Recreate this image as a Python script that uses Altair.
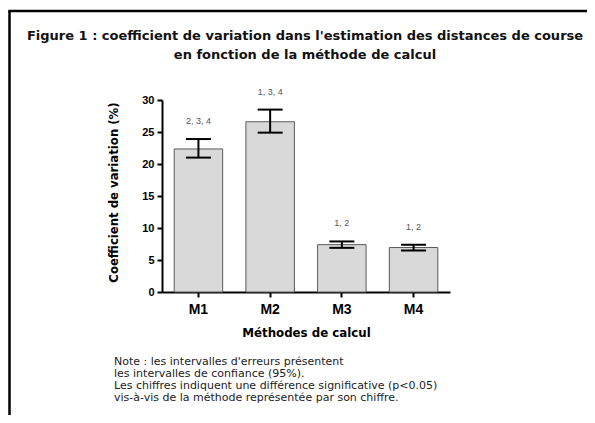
import altair as alt
import pandas as pd

methods = ["M1", "M2", "M3", "M4"]
cv_mean = [22.35, 26.6, 7.4, 6.95]
ci_low = [21.0, 24.9, 6.9, 6.5]
ci_high = [23.9, 28.5, 7.9, 7.4]
sig_labels = ["2, 3, 4", "1, 3, 4", "1, 2", "1, 2"]
y_ticks = [0, 5, 10, 15, 20, 25, 30]

title_lines = [
    "Figure 1 : coefficient de variation dans l'estimation des distances de course",
    "en fonction de la méthode de calcul",
]
note_lines = [
    "Note : les intervalles d'erreurs présentent",
    "les intervalles de confiance (95%).",
    "Les chiffres indiquent une différence significative (p<0.05)",
    "vis-à-vis de la méthode représentée par son chiffre.",
]
x_title = "Méthodes de calcul"
y_title = "Coefficient de variation (%)"

FONT = "Liberation Sans"
WIDE = "DejaVu Sans"

df = pd.DataFrame({
    "method": methods,
    "cv": cv_mean,
    "lo": ci_low,
    "hi": ci_high,
    "sig": sig_labels,
})

xscale = alt.Scale(domain=methods, paddingInner=0.324, paddingOuter=0.17)
yscale = alt.Scale(domain=[0, 30], nice=False, zero=True)


def X():
    return alt.X("method:N", scale=xscale, title=x_title,
                 axis=alt.Axis(labelAngle=0, title=x_title))


def Y(field):
    return alt.Y(f"{field}:Q", scale=yscale, title=y_title,
                 axis=alt.Axis(values=y_ticks, title=y_title))


base = alt.Chart(df)

bars = base.mark_bar(fill="#d9d9d9", stroke="#5a5a5a", strokeWidth=1).encode(
    x=X(), y=Y("cv")
)
err = base.mark_rule(color="black", strokeWidth=2).encode(
    x=X(), y=Y("lo"), y2="hi:Q"
)
cap_lo = base.mark_tick(color="black", thickness=2, size=25, opacity=1).encode(
    x=X(), y=Y("lo")
)
cap_hi = base.mark_tick(color="black", thickness=2, size=25, opacity=1).encode(
    x=X(), y=Y("hi")
)
sig = base.mark_text(font=FONT, fontSize=9, color="#555555", dy=-18,
                     baseline="middle").encode(
    x=X(), y=Y("hi"), text="sig:N"
)

one = pd.DataFrame({"a": [0]})
deco = []
# frame (left and top edges)
deco.append(alt.Chart(one).mark_rule(color="black", strokeWidth=2.5).encode(
    x=alt.value(-152.5), y=alt.value(-89), y2=alt.value(330)))
deco.append(alt.Chart(one).mark_rule(color="black", strokeWidth=2.5).encode(
    x=alt.value(-153.7), x2=alt.value(600), y=alt.value(-89)))
# title lines
for i, line in enumerate(title_lines):
    deco.append(alt.Chart(one).mark_text(
        text=line, font=WIDE, fontSize=13, fontWeight="bold", color="#111111",
        align="center", baseline="alphabetic").encode(
        x=alt.value(143), y=alt.value(-60.5 + 19 * i)))
# note lines
for i, line in enumerate(note_lines):
    deco.append(alt.Chart(one).mark_text(
        text=line, font=WIDE, fontSize=11, color="#222222",
        align="left", baseline="alphabetic").encode(
        x=alt.value(-48), y=alt.value(264.5 + 12 * i)))

chart = alt.layer(bars, err, cap_lo, cap_hi, sig, *deco).properties(
    width=288, height=192,
    autosize=alt.AutoSizeParams(type="none"),
    padding={"left": 154, "top": 92, "right": 137, "bottom": 123},
    background="white",
).configure_view(stroke=None).configure_axis(
    domainColor="black", domainWidth=2, tickColor="black", tickWidth=2,
    tickSize=5, grid=False, labelFont=FONT, titleFont=WIDE,
    labelColor="black", titleColor="black", labelFontWeight="bold",
    titleFontWeight="bold",
).configure_axisY(
    labelFontSize=11, labelPadding=3, titleFontSize=11.7, titleAngle=-90,
    titleX=-49, titleY=92, titleAlign="center", titleBaseline="middle",
).configure_axisX(
    labelFontSize=14, labelPadding=5, titleFontSize=11.8,
    titleX=144, titleY=40, titleAlign="center", titleBaseline="middle",
)

chart.save("out.html", embed_options={"renderer": "svg", "actions": False})
